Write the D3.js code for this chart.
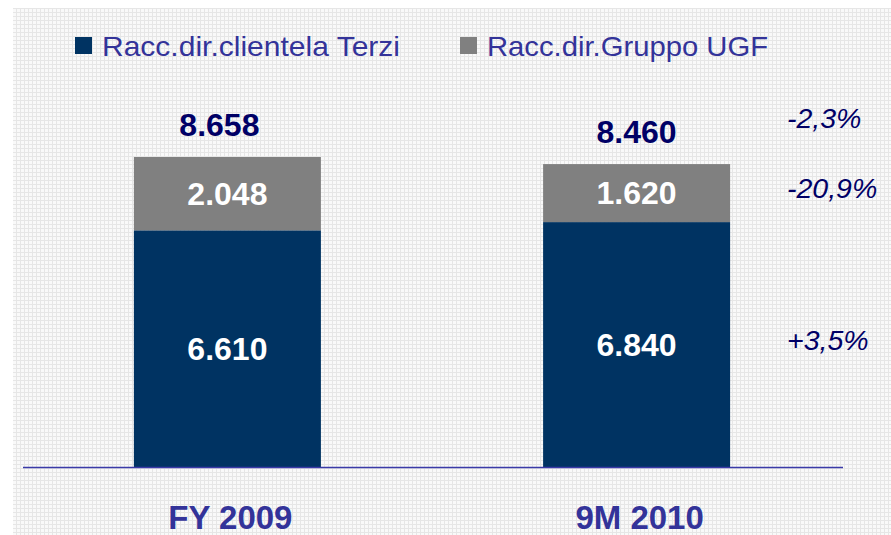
<!DOCTYPE html>
<html>
<head>
<meta charset="utf-8">
<script src="https://cdn.jsdelivr.net/npm/d3@7/dist/d3.min.js"></script>
<style>
  html, body { margin: 0; padding: 0; background: #ffffff; }
  svg { display: block; }
  text { font-family: "Liberation Sans", Arial, sans-serif; }
</style>
</head>
<body>
<svg id="chart" width="891" height="535"></svg>
<script>
// ---- data ----
const categories = ["FY 2009", "9M 2010"];
const terzi = [6610, 6840];
const gruppo = [2048, 1620];
const seriesNames = ["Racc.dir.clientela Terzi", "Racc.dir.Gruppo UGF"];
const changes = ["-2,3%", "-20,9%", "+3,5%"];

const fmt = v => d3.format(",")(v).replace(/,/g, ".");
const totals = terzi.map((v, i) => v + gruppo[i]);

// layout tweaks (not data)
const totalLabelDx = [-8, 0];

const svg = d3.select("#chart");
const W = 891, H = 535;

// background grid pattern
const defs = svg.append("defs");
const pat = defs.append("pattern").attr("id", "grid")
  .attr("width", 4).attr("height", 4).attr("patternUnits", "userSpaceOnUse");
pat.append("rect").attr("width", 4).attr("height", 4).attr("fill", "#e6e6e6");
pat.append("rect").attr("x", 1).attr("y", 1).attr("width", 3).attr("height", 3).attr("fill", "#f9f9f9");

svg.append("rect").attr("x", 0).attr("y", 0).attr("width", W).attr("height", H).attr("fill", "#ffffff");
svg.append("rect").attr("x", 13).attr("y", 8).attr("width", W - 13).attr("height", H - 8).attr("fill", "url(#grid)");

// scales
const x = d3.scaleBand().domain(categories).range([23, 841])
  .paddingInner(0.543).paddingOuter(0.271);
const y = d3.scaleLinear().domain([0, d3.max(totals)]).range([467, 157]);

const colTerzi = "#003362";
const colGruppo = "#808080";

// bars
const g = svg.append("g");
g.selectAll(".terzi").data(categories).join("rect")
  .attr("x", d => x(d)).attr("width", x.bandwidth())
  .attr("y", (d, i) => y(terzi[i])).attr("height", (d, i) => y(0) - y(terzi[i]))
  .attr("fill", colTerzi);
g.selectAll(".gruppo").data(categories).join("rect")
  .attr("x", d => x(d)).attr("width", x.bandwidth())
  .attr("y", (d, i) => y(totals[i])).attr("height", (d, i) => y(terzi[i]) - y(totals[i]))
  .attr("fill", colGruppo);

// baseline
svg.append("line")
  .attr("x1", x.range()[0]).attr("x2", x.range()[1] + 2)
  .attr("y1", y(0) + 0.5).attr("y2", y(0) + 0.5)
  .attr("stroke", "#3a3aa8").attr("stroke-width", 1.5);

// segment labels
g.selectAll(".lblT").data(categories).join("text")
  .attr("x", d => x(d) + x.bandwidth() / 2)
  .attr("y", (d, i) => (y(terzi[i]) + y(0)) / 2 + 11)
  .attr("text-anchor", "middle").attr("fill", "#ffffff")
  .attr("font-size", 32).attr("font-weight", "bold")
  .text((d, i) => fmt(terzi[i]));
g.selectAll(".lblG").data(categories).join("text")
  .attr("x", d => x(d) + x.bandwidth() / 2)
  .attr("y", (d, i) => (y(totals[i]) + y(terzi[i])) / 2 + 11)
  .attr("text-anchor", "middle").attr("fill", "#ffffff")
  .attr("font-size", 32).attr("font-weight", "bold")
  .text((d, i) => fmt(gruppo[i]));
// totals
g.selectAll(".lblTot").data(categories).join("text")
  .attr("x", (d, i) => x(d) + x.bandwidth() / 2 + totalLabelDx[i])
  .attr("y", (d, i) => y(totals[i]) - 21)
  .attr("text-anchor", "middle").attr("fill", "#000066")
  .attr("font-size", 32).attr("font-weight", "bold")
  .text((d, i) => fmt(totals[i]));

// category labels
g.selectAll(".cat").data(categories).join("text")
  .attr("x", d => x(d) + x.bandwidth() / 2 + 3)
  .attr("y", 529)
  .attr("text-anchor", "middle").attr("fill", "#333399")
  .attr("font-size", 33).attr("font-weight", "bold")
  .text(d => d);

// change labels (right side)
const last = categories.length - 1;
const changeY = [
  y(totals[last]) - 36,
  (y(totals[last]) + y(terzi[last])) / 2 + 5,
  (y(terzi[last]) + y(0)) / 2 + 5
];
svg.selectAll(".chg").data(changes).join("text")
  .attr("x", 787).attr("y", (d, i) => changeY[i])
  .attr("fill", "#000066").attr("font-size", 28.5).attr("font-style", "italic")
  .text(d => d);

// legend
const legendItems = [
  { name: seriesNames[0], color: colTerzi, sx: 75, tx: 102, len: 298 },
  { name: seriesNames[1], color: colGruppo, sx: 460, tx: 487, len: 281 }
];
const lg = svg.append("g");
lg.selectAll("rect").data(legendItems).join("rect")
  .attr("x", d => d.sx).attr("y", 37).attr("width", 17).attr("height", 17)
  .attr("fill", d => d.color);
lg.selectAll("text").data(legendItems).join("text")
  .attr("x", d => d.tx).attr("y", 55.5)
  .attr("fill", "#333399").attr("font-size", 28.5)
  .attr("textLength", d => d.len).attr("lengthAdjust", "spacingAndGlyphs")
  .text(d => d.name);
</script>
</body>
</html>
